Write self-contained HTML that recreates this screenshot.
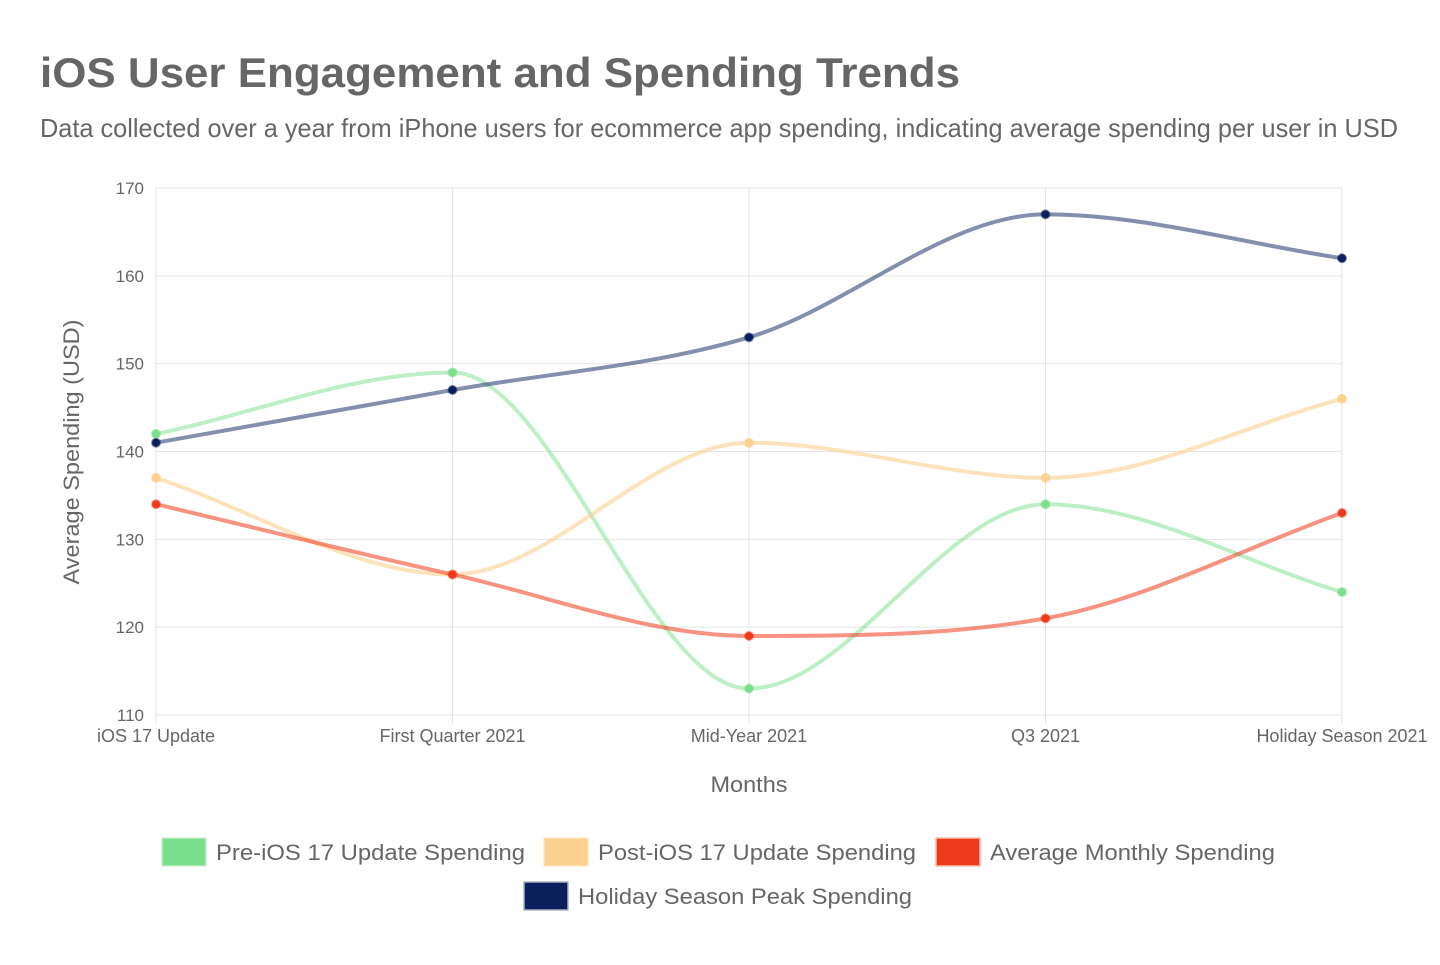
<!DOCTYPE html>
<html><head><meta charset="utf-8">
<style>
html,body{margin:0;padding:0;background:#fff;}
body{width:1440px;height:960px;overflow:hidden;font-family:"Liberation Sans",sans-serif;}
</style></head>
<body>
<svg id="chart" width="1440" height="960" xmlns="http://www.w3.org/2000/svg" font-family="Liberation Sans, sans-serif">
<text x="40" y="87" font-size="42" font-weight="bold" fill="#666" textLength="920" lengthAdjust="spacingAndGlyphs">iOS User Engagement and Spending Trends</text>
<text x="40" y="137" font-size="26" fill="#666" textLength="1358" lengthAdjust="spacingAndGlyphs">Data collected over a year from iPhone users for ecommerce app spending, indicating average spending per user in USD</text>
<g id="grid"></g>
<g id="series"></g>
<text x="749" y="792" font-size="22" fill="#666" text-anchor="middle" textLength="77" lengthAdjust="spacingAndGlyphs">Months</text>
<text transform="translate(79,452) rotate(-90)" font-size="22" fill="#666" text-anchor="middle" textLength="265" lengthAdjust="spacingAndGlyphs">Average Spending (USD)</text>
<g id="legend"></g>
</svg>
<script>
const categories=["iOS 17 Update","First Quarter 2021","Mid-Year 2021","Q3 2021","Holiday Season 2021"];
const yTicks=[110,120,130,140,150,160,170];
const preValues=[142,149,113,134,124];
const postValues=[137,126,141,137,146];
const avgValues=[134,126,119,121,133];
const holidayValues=[141,147,153,167,162];
const seriesNames=["Pre-iOS 17 Update Spending","Post-iOS 17 Update Spending","Average Monthly Spending","Holiday Season Peak Spending"];

const NS="http://www.w3.org/2000/svg";
const L=156,R=1342,T=188,B=715,yMin=110,yMax=170;
const xs=i=>L+i*(R-L)/(categories.length-1);
const ys=v=>B-(v-yMin)/(yMax-yMin)*(B-T);
function mk(tag,attrs,parent){const e=document.createElementNS(NS,tag);for(const k in attrs)e.setAttribute(k,attrs[k]);parent.appendChild(e);return e;}
const grid=document.getElementById('grid');
yTicks.forEach(t=>{
  const ln=mk('line',{x1:L,x2:R,y1:ys(t),y2:ys(t),stroke:'#e5e5e5','stroke-width':1},grid);
  
  
  const tx=mk('text',{x:L-12,y:ys(t)+6,'font-size':17,fill:'#666','text-anchor':'end'},grid);
  tx.textContent=t;
  
  
});
categories.forEach((c,i)=>{
  const ln=mk('line',{x1:xs(i),x2:xs(i),y1:T,y2:B+8,stroke:'#e5e5e5','stroke-width':1},grid);
  
  
  const tx=mk('text',{x:xs(i),y:742,'font-size':18,fill:'#666','text-anchor':'middle'},grid);
  tx.textContent=c;
  
  
});
const sers=[
 {v:preValues,c:'#7be08e',line:'rgba(123,224,142,0.5)',b:'rgba(123,224,142,0.6)',n:'pre-ios17-series'},
 {v:postValues,c:'#fcd08f',line:'rgba(252,208,143,0.6)',b:'rgba(252,208,143,0.7)',n:'post-ios17-series'},
 {v:avgValues,c:'#ee3a1a',line:'rgba(238,58,26,0.55)',b:'rgba(238,58,26,0.5)',n:'average-monthly-series'},
 {v:holidayValues,c:'#0a1f5c',line:'rgba(10,31,92,0.5)',b:'rgba(10,31,92,0.5)',n:'holiday-peak-series'}
];
function path(pts){
  const n=pts.length,dx=[],del=[],m=[];
  for(let i=0;i<n-1;i++){dx[i]=pts[i+1].x-pts[i].x;del[i]=(pts[i+1].y-pts[i].y)/dx[i];}
  m[0]=del[0];m[n-1]=del[n-2];
  for(let i=1;i<n-1;i++)m[i]=(del[i-1]*del[i]<=0)?0:(del[i-1]+del[i])/2;
  for(let i=0;i<n-1;i++){
    if(del[i]===0){m[i]=0;m[i+1]=0;continue;}
    const a=m[i]/del[i],b=m[i+1]/del[i],s=a*a+b*b;
    if(s>9){const t=3/Math.sqrt(s);m[i]=t*a*del[i];m[i+1]=t*b*del[i];}
  }
  let d=`M${pts[0].x},${pts[0].y}`;
  for(let i=0;i<n-1;i++){
    const h=dx[i]/3;
    d+=` C${pts[i].x+h},${pts[i].y+m[i]*h} ${pts[i+1].x-h},${pts[i+1].y-m[i+1]*h} ${pts[i+1].x},${pts[i+1].y}`;
  }
  return d;
}
const sg=document.getElementById('series');
sers.forEach(s=>{
  const pts=s.v.map((v,i)=>({x:xs(i),y:ys(v)}));
  const g=mk('g',{},sg);
  
  
  const p=mk('path',{d:path(pts),fill:'none',stroke:s.line,'stroke-width':4},g);
  
  
  pts.forEach(q=>{
    const c=mk('circle',{cx:q.x,cy:q.y,r:4,fill:s.c,stroke:s.b,'stroke-width':2},g);
    
    
  });
});
const lg=document.getElementById('legend');
const lpos=[[162,852,309],[544,852,318],[936,852,285],[524,896,334]];
sers.forEach((s,i)=>{
  const g=mk('g',{},lg);
  
  
  const [x,y,w]=lpos[i];
  mk('rect',{x:x+1,y:y-13,width:42,height:26,fill:s.c,stroke:s.b,'stroke-width':3},g);
  const t=mk('text',{x:x+54,y:y+8,'font-size':22,fill:'#666',textLength:w,lengthAdjust:'spacingAndGlyphs'},g);
  t.textContent=seriesNames[i];
});
</script>
</body></html>
